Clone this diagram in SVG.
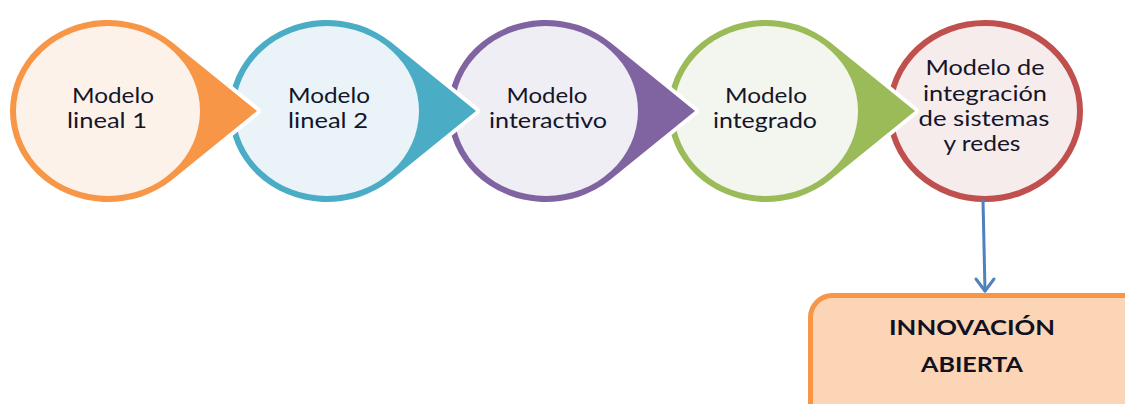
<svg xmlns="http://www.w3.org/2000/svg" xmlns:xlink="http://www.w3.org/1999/xlink" width="1125" height="404" viewBox="0 0 1125 404">
  <style>
    .drop { stroke: #ffffff; stroke-width: 8; paint-order: stroke; stroke-linejoin: round; }
    .lbl { font-family: Lato, "Liberation Sans", sans-serif; font-size: 20.5px; fill: #15152a; text-anchor: middle; }
    .big { font-family: Lato, "Liberation Sans", sans-serif; font-size: 21px; font-weight: bold; fill: #111122; text-anchor: middle; }
    .link { stroke: #4f81bd; stroke-width: 3; fill: none; stroke-linecap: round; stroke-linejoin: round; }
  </style>
  <defs>
    <!-- circle with a pointed tail to the right; centred on the origin -->
    <path id="drop" d="M64.5,-68.5 L149,0 L64.5,68.5 A98,91 0 1 1 64.5,-68.5 Z"/>
  </defs>

  <rect width="1125" height="404" fill="#ffffff"/>

  <!-- last step first so that each tail sits over the next circle -->
  <g id="n5" transform="translate(985,111)">
    <ellipse rx="95" ry="88" fill="#f6ecec" stroke="#c0504d" stroke-width="6"/>
    <text class="lbl" x="0" y="-36" textLength="119" lengthAdjust="spacingAndGlyphs">Modelo de</text>
    <text class="lbl" x="0" y="-10" textLength="124" lengthAdjust="spacingAndGlyphs">integración</text>
    <text class="lbl" x="-1" y="15" textLength="131" lengthAdjust="spacingAndGlyphs">de sistemas</text>
    <text class="lbl" x="-3" y="40" textLength="77" lengthAdjust="spacingAndGlyphs">y redes</text>
  </g>

  <g id="n4" transform="translate(766,111)">
    <use xlink:href="#drop" class="drop" fill="#9bbb59"/>
    <ellipse rx="92" ry="85" fill="#f3f6ee"/>
    <text class="lbl" x="0" y="-8" textLength="82" lengthAdjust="spacingAndGlyphs">Modelo</text>
    <text class="lbl" x="-1" y="17" textLength="104" lengthAdjust="spacingAndGlyphs">integrado</text>
  </g>

  <g id="n3" transform="translate(546,111)">
    <use xlink:href="#drop" class="drop" fill="#8064a2"/>
    <ellipse rx="92" ry="85" fill="#f0eef5"/>
    <text class="lbl" x="1" y="-8" textLength="81" lengthAdjust="spacingAndGlyphs">Modelo</text>
    <text class="lbl" x="2" y="17" textLength="118" lengthAdjust="spacingAndGlyphs">interactivo</text>
  </g>

  <g id="n2" transform="translate(327,111)">
    <use xlink:href="#drop" class="drop" fill="#4bacc6"/>
    <ellipse rx="92" ry="85" fill="#eaf4f8"/>
    <text class="lbl" x="2" y="-8" textLength="82" lengthAdjust="spacingAndGlyphs">Modelo</text>
    <text class="lbl" x="1" y="17" textLength="80" lengthAdjust="spacingAndGlyphs">lineal 2</text>
  </g>

  <g id="n1" transform="translate(108,111)">
    <use xlink:href="#drop" class="drop" fill="#f79646"/>
    <ellipse rx="92" ry="85" fill="#fdf2e9"/>
    <text class="lbl" x="5" y="-8" textLength="82" lengthAdjust="spacingAndGlyphs">Modelo</text>
    <text class="lbl" x="-1" y="17" textLength="80" lengthAdjust="spacingAndGlyphs">lineal 1</text>
  </g>

  <!-- outcome box, running off the right and bottom edges -->
  <g id="n6">
    <rect x="810.5" y="295.5" width="340" height="140" rx="22" ry="22" fill="#fbd5b5" stroke="#f79646" stroke-width="5"/>
    <text class="big" x="972" y="335" textLength="166" lengthAdjust="spacingAndGlyphs">INNOVACIÓN</text>
    <text class="big" x="972" y="372" textLength="102" lengthAdjust="spacingAndGlyphs">ABIERTA</text>
  </g>

  <g id="connectors">
    <path class="link" d="M983,200 L985,291"/>
    <path class="link" d="M976,279 L985,291 L994,279"/>
  </g>
</svg>
